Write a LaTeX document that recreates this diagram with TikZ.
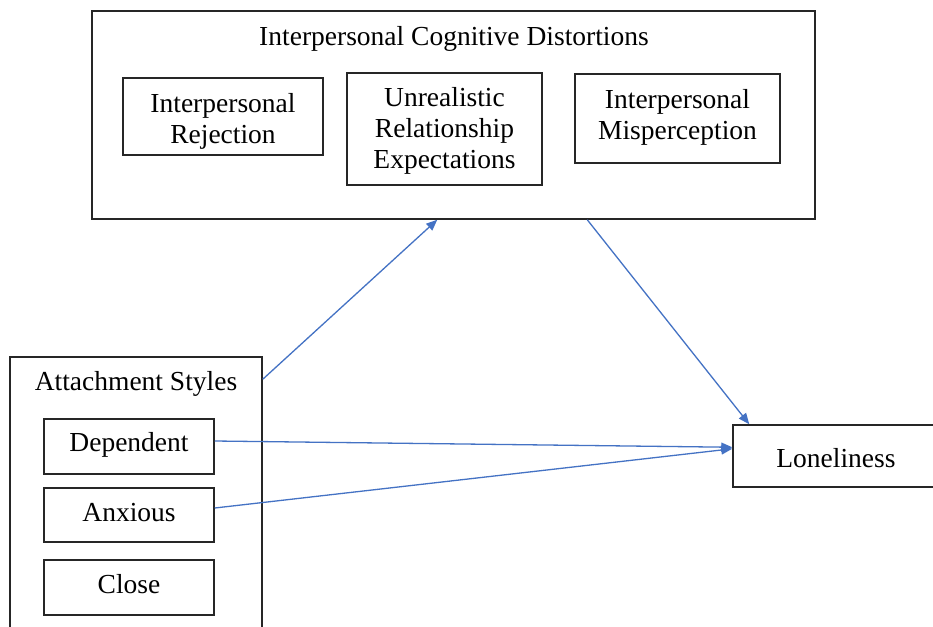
\documentclass[tikz,border=0pt]{standalone}
\usepackage{fontspec}
\setmainfont{Liberation Serif}
\usetikzlibrary{arrows.meta,calc}
\definecolor{connblue}{RGB}{68,114,196}
\begin{document}
\begin{tikzpicture}[x=1pt,y=-1pt,
  box/.style={draw=black!85,line width=1.5pt,rectangle,inner sep=0pt},
  lbl/.style={inner sep=0pt,align=center,font=\fontsize{27.5}{31}\selectfont},
  conn/.style={color=connblue,line width=1.3pt,
    -{Triangle[length=11pt,width=9pt]}}]
\useasboundingbox (0,0) rectangle (933,626);
\fill[white] (0,0) rectangle (933,626);
% top group
\node[box,minimum width=723pt,minimum height=208pt] (top) at (453.5,115) {};
\node[lbl] (toptitle) at (454,39) {Interpersonal Cognitive Distortions};
\node[box,minimum width=200pt,minimum height=77pt] (ir) at (223,116.5) {};
\node[lbl] (irt) at (223,121.5) {Interpersonal\\Rejection};
\node[box,minimum width=195pt,minimum height=112pt] (ure) at (444.5,129) {};
\node[lbl] (uret) at (444.5,131) {Unrealistic\\Relationship\\Expectations};
\node[box,minimum width=205pt,minimum height=89pt] (im) at (677.5,118.5) {};
\node[lbl] (imt) at (677.5,117.5) {Interpersonal\\Misperception};
% attachment group
\node[box,minimum width=252pt,minimum height=283pt] (att) at (136,498.5) {};
\node[lbl] (atttitle) at (136,384) {Attachment Styles};
\node[box,minimum width=170pt,minimum height=55pt] (dep) at (129,446.5) {};
\node[lbl] (dept) at (129,444.5) {Dependent};
\node[box,minimum width=170pt,minimum height=54pt] (anx) at (129,515) {};
\node[lbl] (anxt) at (129,513) {Anxious};
\node[box,minimum width=170pt,minimum height=55pt] (clo) at (129,587.5) {};
\node[lbl] (clot) at (129,584.5) {Close};
% outcome
\node[box,minimum width=207pt,minimum height=62pt] (lon) at (836.5,456) {};
\node[lbl] (lontxt) at (836,458) {Loneliness};
% connectors
\coordinate (a1) at ($(att.north east)+(0,23)$);
\coordinate (a2) at ($(top.south west)+(346,0)$);
\coordinate (b1) at ($(top.south west)+(496,0)$);
\coordinate (b2) at ($(lon.north west)+(17,0)$);
\coordinate (d1) at ($(dep.east)+(0,-5.5)$);
\coordinate (x1) at ($(anx.east)+(0,-7)$);
\coordinate (l1) at ($(lon.north west)+(0,23)$);
\coordinate (l2) at ($(lon.north west)+(0,24.5)$);
\draw[conn] (a1) -- (a2);
\draw[conn] (b1) -- (b2);
\draw[conn] (d1) -- (l1);
\draw[conn] (x1) -- (l2);
\end{tikzpicture}
\end{document}
